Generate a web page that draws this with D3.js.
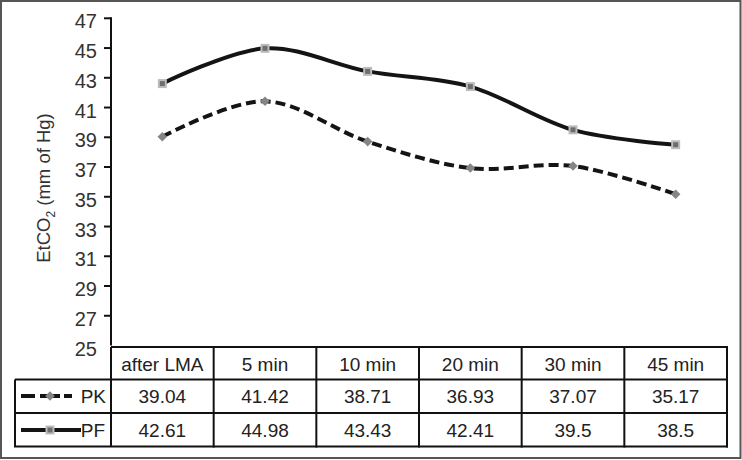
<!DOCTYPE html>
<html><head><meta charset="utf-8">
<script src="https://cdn.jsdelivr.net/npm/d3@7"></script>
<style>
body{margin:0;background:#fff;}
svg{display:block;}
text{font-family:Arial,"Liberation Sans",Helvetica,sans-serif;}
</style></head>
<body>
<svg id="chart" width="742" height="460"></svg>
<script>
const categories = ["after LMA","5 min","10 min","20 min","30 min","45 min"];
const seriesNames = ["PK","PF"];
const pkValues = [39.04,41.42,38.71,36.93,37.07,35.17];
const pfValues = [42.61,44.98,43.43,42.41,39.5,38.5];
const pkLabels = ["39.04","41.42","38.71","36.93","37.07","35.17"];
const pfLabels = ["42.61","44.98","43.43","42.41","39.5","38.5"];
const yTicks = [25,27,29,31,33,35,37,39,41,43,45,47];

const svg = d3.select("#chart");

// outer frame
svg.append("rect").attr("x",1).attr("y",1).attr("width",739.5).attr("height",457)
  .attr("fill","#fff").attr("stroke","#555").attr("stroke-width",2);

const x = d3.scaleBand().domain(categories).range([111,727]);
const y = d3.scaleLinear().domain([25,47]).range([345.5,18.3]);
const cx = d => x(d) + x.bandwidth()/2;

// y axis
const axisX = 111;
svg.append("line").attr("x1",axisX).attr("x2",axisX).attr("y1",y(47)-1).attr("y2",y(25))
  .attr("stroke","#111").attr("stroke-width",2);
const tg = svg.append("g");
yTicks.forEach(t => {
  if (t !== 25) {
    tg.append("line").attr("x1",axisX-7).attr("x2",axisX).attr("y1",y(t)).attr("y2",y(t))
      .attr("stroke","#111").attr("stroke-width",2);
  }
  tg.append("text").attr("x",97).attr("y",y(t)+10).attr("text-anchor","end")
    .attr("font-size",20).attr("fill","#333").text(t);
});

// y label
const yl = svg.append("text").attr("transform","translate(50,188) rotate(-90)")
  .attr("text-anchor","middle").attr("font-size",18.5).attr("fill","#333");
yl.append("tspan").text("EtCO");
yl.append("tspan").attr("font-size",12).attr("dy",5).text("2");
yl.append("tspan").attr("dy",-5).text(" (mm of Hg)");

// lines
const curve = d3.curveCatmullRom.alpha(0);
const line = d3.line().x((d,i)=>cx(categories[i])).y(d=>y(d)).curve(curve);
svg.append("path").attr("d",line(pfValues)).attr("fill","none")
  .attr("stroke","#141414").attr("stroke-width",4);
svg.append("path").attr("d",line(pkValues)).attr("fill","none")
  .attr("stroke","#141414").attr("stroke-width",4).attr("stroke-dasharray","10,5");

function square(g,px,py){
  g.append("rect").attr("x",px-3.5).attr("y",py-3.5).attr("width",7).attr("height",7)
    .attr("fill","#6e6e6e").attr("stroke","#bdbdbd").attr("stroke-width",2);
}
function diamond(g,px,py){
  g.append("path").attr("d",`M${px},${py-4.8}L${px+4.8},${py}L${px},${py+4.8}L${px-4.8},${py}Z`)
    .attr("fill","#858585");
}
const mg = svg.append("g");
pfValues.forEach((v,i)=>square(mg,cx(categories[i]),y(v)));
pkValues.forEach((v,i)=>diamond(mg,cx(categories[i]),y(v)));

// data table
const tTop = 347, hBot = 379.5, r1Bot = 413, r2Bot = 446.5, tLeft = 15, tRight = 727;
const tbl = svg.append("g").attr("stroke","#111").attr("stroke-width",2);
tbl.append("line").attr("x1",axisX).attr("x2",tRight).attr("y1",tTop).attr("y2",tTop);
tbl.append("line").attr("x1",tLeft).attr("x2",tRight).attr("y1",hBot).attr("y2",hBot);
tbl.append("line").attr("x1",tLeft).attr("x2",tRight).attr("y1",r1Bot).attr("y2",r1Bot);
tbl.append("line").attr("x1",tLeft-1).attr("x2",tRight+1).attr("y1",r2Bot).attr("y2",r2Bot);
tbl.append("line").attr("x1",tLeft).attr("x2",tLeft).attr("y1",hBot).attr("y2",r2Bot);
tbl.append("line").attr("x1",axisX).attr("x2",axisX).attr("y1",tTop).attr("y2",r2Bot);
categories.forEach(c=>{
  tbl.append("line").attr("x1",x(c)+x.bandwidth()).attr("x2",x(c)+x.bandwidth())
    .attr("y1",tTop-1).attr("y2",r2Bot+1);
});
const txt = svg.append("g").attr("font-size",19).attr("fill","#222").attr("text-anchor","middle");
categories.forEach((c,i)=>{
  txt.append("text").attr("x",cx(c)).attr("y",371).text(c);
  txt.append("text").attr("x",cx(c)).attr("y",402.5).text(pkLabels[i]);
  txt.append("text").attr("x",cx(c)).attr("y",436.5).text(pfLabels[i]);
});
// legend keys
const lg = svg.append("g");
lg.append("line").attr("x1",21).attr("x2",72).attr("y1",396).attr("y2",396)
  .attr("stroke","#141414").attr("stroke-width",4).attr("stroke-dasharray","14,5,20,4,8");
diamond(lg,50,396);
lg.append("line").attr("x1",21).attr("x2",81).attr("y1",430).attr("y2",430)
  .attr("stroke","#141414").attr("stroke-width",4);
square(lg,50,430);
lg.append("text").attr("x",106).attr("y",402.5).attr("text-anchor","end").attr("font-size",19).attr("fill","#222").text(seriesNames[0]);
lg.append("text").attr("x",105).attr("y",436.5).attr("text-anchor","end").attr("font-size",19).attr("fill","#222").text(seriesNames[1]);
</script>
</body></html>
